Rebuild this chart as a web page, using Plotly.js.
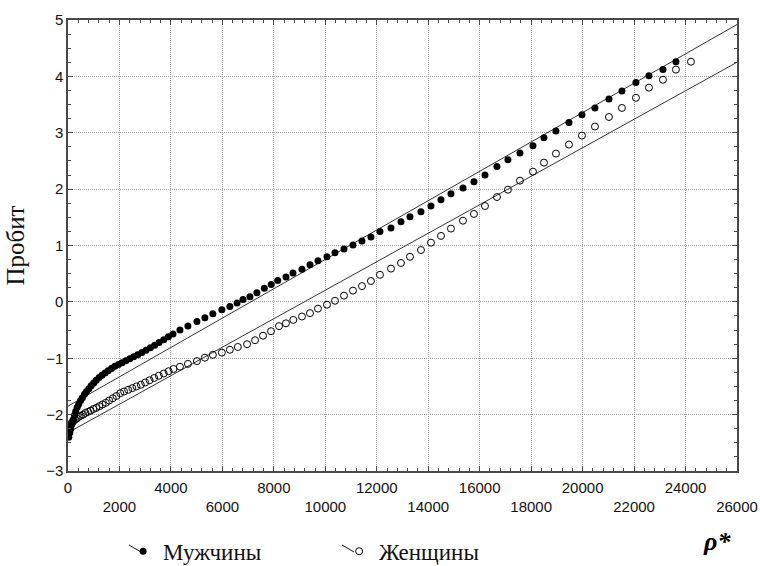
<!DOCTYPE html>
<html><head><meta charset="utf-8">
<script src="https://cdn.plot.ly/plotly-3.0.1.min.js"></script>
<style>html,body{margin:0;padding:0;background:#fff}</style>
</head><body><div id="chart" style="width:760px;height:566px"></div>
<script>
// Мужчины (filled circles)
const menX = [30,70,110,150,200,250,300,360,420,490,560,640,720,810,900,1000,1100,1210,1320,1440,1560,1690,1820,1960,2100,2250,2400,2550,2710,2870,3030,3200,3370,3540,3720,3900,4080,4350,4660,5010,5320,5630,5980,6290,6570,6800,7070,7340,7630,7900,8150,8472,8744,9093,9404,9715,10065,10376,10726,11075,11425,11774,12124,12552,12940,13290,13718,14106,14495,14883,15350,15777,16205,16671,17098,17565,18070,18497,18964,19469,19974,20479,21023,21528,22072,22578,23122,23627];
const menY = [-2.40,-2.32,-2.25,-2.17,-2.09,-2.01,-1.94,-1.87,-1.81,-1.75,-1.70,-1.64,-1.59,-1.54,-1.49,-1.44,-1.39,-1.34,-1.30,-1.26,-1.22,-1.18,-1.14,-1.11,-1.08,-1.045,-1.01,-0.975,-0.94,-0.90,-0.86,-0.815,-0.77,-0.72,-0.67,-0.62,-0.57,-0.50,-0.43,-0.35,-0.28,-0.21,-0.14,-0.08,-0.02,0.04,0.09,0.16,0.24,0.31,0.38,0.44,0.51,0.58,0.66,0.73,0.80,0.87,0.94,1.01,1.08,1.15,1.25,1.31,1.42,1.51,1.60,1.70,1.81,1.92,2.02,2.13,2.25,2.40,2.52,2.64,2.77,2.91,3.03,3.18,3.32,3.44,3.60,3.74,3.89,4.01,4.12,4.26];
// Женщины (open circles)
const womenX = [30,80,140,200,270,340,420,500,590,680,780,880,990,1100,1220,1340,1470,1600,1740,1880,2030,2180,2340,2500,2660,2830,3000,3170,3350,3530,3720,3910,4100,4350,4660,5010,5320,5630,5980,6290,6600,6960,7270,7580,7890,8200,8470,8756,9093,9404,9715,10065,10376,10726,11075,11425,11774,12124,12552,12940,13290,13718,14106,14495,14883,15350,15777,16205,16671,17098,17565,18070,18497,18964,19469,19974,20479,21023,21528,22072,22578,23122,23627,24210];
const womenY = [-2.26,-2.20,-2.15,-2.12,-2.09,-2.07,-2.04,-2.02,-2.00,-1.97,-1.95,-1.93,-1.90,-1.88,-1.85,-1.82,-1.79,-1.75,-1.71,-1.67,-1.62,-1.59,-1.56,-1.53,-1.50,-1.47,-1.43,-1.39,-1.35,-1.31,-1.27,-1.23,-1.19,-1.15,-1.10,-1.05,-0.99,-0.94,-0.90,-0.85,-0.80,-0.75,-0.68,-0.60,-0.52,-0.43,-0.38,-0.32,-0.26,-0.20,-0.12,-0.05,0.02,0.11,0.20,0.28,0.37,0.48,0.59,0.69,0.80,0.92,1.05,1.17,1.30,1.44,1.56,1.70,1.86,1.99,2.15,2.31,2.47,2.63,2.79,2.95,3.11,3.28,3.44,3.62,3.80,3.94,4.12,4.26];
// fitted probit lines (end points)
const fitX = [0, 26000];
const menFitY = [-1.85, 4.92];
const womenFitY = [-2.32, 4.25];
// axis ticks
const xTickVals = [0,2000,4000,6000,8000,10000,12000,14000,16000,18000,20000,22000,24000,26000];
const xTickText = ['0','<br>2000','4000','<br>6000','8000','<br>10000','12000','<br>14000','16000','<br>18000','20000','<br>22000','24000','<br>26000'];
const yTickVals = [-3,-2,-1,0,1,2,3,4,5];
const seriesNames = ['Мужчины','Женщины'];

const W = 760, H = 566, ML = 68, MR = 23, MT = 20, MB = 95;
const PW = W - ML - MR, PH = H - MT - MB;
const px2paperX = p => (p - ML) / PW;
const px2paperY = p => (H - MB - p) / PH;

const axisCommon = {
  showline: true, linecolor: '#4a4a4a', linewidth: 1.6, mirror: 'allticks',
  ticks: 'inside', ticklen: 5, tickcolor: '#4a4a4a', tickwidth: 1,
  showgrid: true, gridcolor: '#a0a0a0', griddash: '1px,1px', gridwidth: 1,
  zeroline: false,
  tickfont: {family: 'Liberation Sans, Arial, sans-serif', size: 15, color: '#111'},
  minor: {ticks: 'inside', ticklen: 3, tickcolor: '#4a4a4a', showgrid: false}
};

const traces = [
  {x: fitX, y: menFitY, mode: 'lines', line: {color: '#333', width: 1}, showlegend: false, hoverinfo: 'skip'},
  {x: fitX, y: womenFitY, mode: 'lines', line: {color: '#333', width: 1}, showlegend: false, hoverinfo: 'skip'},
  {x: menX, y: menY, mode: 'markers', name: seriesNames[0],
   marker: {symbol: 'circle', size: 7, color: '#000'}},
  {x: womenX, y: womenY, mode: 'markers', name: seriesNames[1],
   marker: {symbol: 'circle-open', size: 7, color: '#000', line: {width: 1}}}
];

// small diagonal strokes of the legend keys (decoration, pixel positions)
const legendStroke = (x0, y0, x1, y1) => ({type: 'line', xref: 'paper', yref: 'paper',
  x0: px2paperX(x0), y0: px2paperY(y0), x1: px2paperX(x1), y1: px2paperY(y1),
  line: {color: '#111', width: 1}});

const layout = {
  width: W, height: H,
  margin: {l: ML, r: MR, t: MT, b: MB},
  paper_bgcolor: '#fff', plot_bgcolor: '#fff',
  xaxis: Object.assign({}, axisCommon, {
    range: [0, 26000], tickmode: 'array', tickvals: xTickVals, ticktext: xTickText,
    ticklabelstandoff: 2, automargin: false,
    minor: Object.assign({}, axisCommon.minor, {dtick: 400, tick0: 0})
  }),
  yaxis: Object.assign({}, axisCommon, {
    range: [-3, 5], tickmode: 'array', tickvals: yTickVals, automargin: false,
    minor: Object.assign({}, axisCommon.minor, {dtick: 0.25, tick0: 0}),
    title: {text: 'Пробит', font: {family: 'Liberation Serif, Times New Roman, serif', size: 25, color: '#111'}, standoff: 14}
  }),
  showlegend: true,
  legend: {orientation: 'h', xref: 'container', yref: 'container',
    x: 0.162, xanchor: 'left', y: 0.026, yanchor: 'middle',
    font: {family: 'Liberation Serif, Times New Roman, serif', size: 23, color: '#111'},
    entrywidth: 171, entrywidthmode: 'pixels', bgcolor: 'rgba(0,0,0,0)'},
  shapes: [legendStroke(129, 545, 141, 552), legendStroke(342, 545, 354, 552)],
  annotations: [{
    xref: 'paper', yref: 'paper', x: px2paperX(717), y: px2paperY(541), xanchor: 'center', yanchor: 'middle',
    text: '<b><i>ρ*</i></b>', showarrow: false,
    font: {family: 'Liberation Serif, Times New Roman, serif', size: 26, color: '#000'}
  }]
};

Plotly.newPlot('chart', traces, layout, {displayModeBar: false, staticPlot: true});
</script></body></html>
